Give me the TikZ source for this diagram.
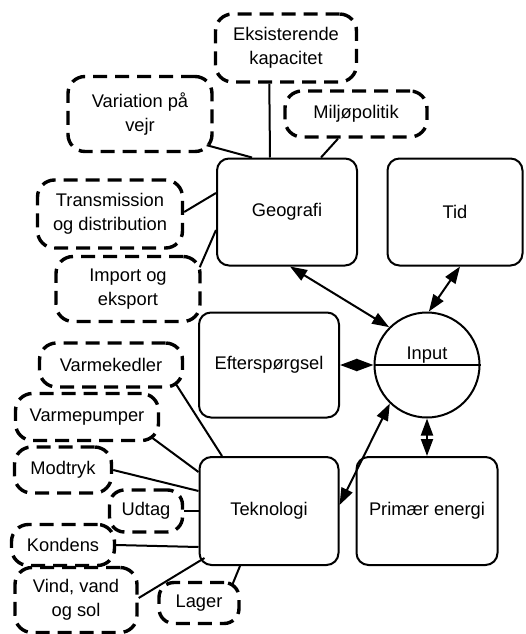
\documentclass[tikz,border=0pt]{standalone}
\usepackage{fontspec}
\setmainfont{Liberation Sans}
\usetikzlibrary{calc,arrows.meta}

\tikzset{
  box/.style={draw, line width=2pt, rounded corners=12pt, inner sep=0pt,
    align=center, font=\fontsize{18.3}{23.5}\selectfont},
  factor/.style={draw, line width=3.4pt, dash pattern=on 14pt off 8pt,
    rounded corners=17pt, inner sep=0pt, align=center,
    font=\fontsize{18.3}{23.5}\selectfont},
  link/.style={line width=2pt},
  both/.style={line width=2pt, {Triangle[length=17pt,width=12pt]}-{Triangle[length=17pt,width=12pt]}}
}

\begin{document}
\begin{tikzpicture}[x=1pt,y=-1pt]
\useasboundingbox (0,0) rectangle (525,634);

% main blocks
\node[box, minimum width=140pt, minimum height=107pt] (geo) at (287,212) {Geografi};
\node[box, minimum width=135pt, minimum height=107pt] (tid) at (455,212) {Tid};
\node[box, minimum width=140pt, minimum height=105pt] (eft) at (269,365) {Efterspørgsel};
\node[box, minimum width=139pt, minimum height=108pt] (tek) at (269,511) {Teknologi};
\node[box, minimum width=141pt, minimum height=108pt] (pri) at (427,511) {Primær energi};

% input circle with dividing line
\node[draw, circle, line width=2pt, minimum size=105pt, inner sep=0pt] (inp) at (427,365) {};
\draw[line width=2pt] (inp.west) -- (inp.east);
\node[anchor=base, inner sep=0pt, font=\fontsize{18.3}{23.5}\selectfont] (inplabel) at ($(inp)+(0,-6)$) {Input};

% geography factors
\node[factor, minimum width=141pt, minimum height=68pt] (eks) at (286,48) {Eksisterende\\kapacitet};
\node[factor, minimum width=144pt, minimum height=75pt] (var) at (140,114) {Variation på\\vejr};
\node[factor, minimum width=142pt, minimum height=46pt] (mil) at (356,114) {Miljøpolitik};
\node[factor, minimum width=145pt, minimum height=68pt] (tra) at (110,214) {Transmission\\og distribution};
\node[factor, minimum width=144pt, minimum height=65pt] (imp) at (128,289) {Import og\\eksport};

% technology factors
\node[factor, minimum width=143pt, minimum height=44pt] (vk) at (111,365) {Varmekedler};
\node[factor, minimum width=143pt, minimum height=47pt] (vp) at (87,417) {Varmepumper};
\node[factor, minimum width=97pt, minimum height=46pt] (mod) at (63,470) {Modtryk};
\node[factor, minimum width=73pt, minimum height=42pt, rounded corners=15pt] (udt) at (146,511) {Udtag};
\node[factor, minimum width=103pt, minimum height=41pt] (kon) at (63,545) {Kondens};
\node[factor, minimum width=122pt, minimum height=65pt] (vin) at (76,600) {Vind, vand\\og sol};
\node[factor, minimum width=80pt, minimum height=41pt, rounded corners=15pt] (lag) at (199,603) {Lager};

% links to Geografi
\draw[link] ($(eks.south west)+(55.5,0)$) -- ($(geo.north west)+(54,0)$);
\draw[link] ($(var.south east)+(-7,-8)$) -- ($(geo.north west)+(36,0)$);
\draw[link] ($(mil.south)+(-18,0)$) -- ($(geo.north west)+(105,0)$);
\draw[link] ($(tra.east)+(0,-2)$) -- ($(geo.west)+(0,-19)$);
\draw[link] ($(imp.north east)+(-2,12.5)$) -- ($(geo.west)+(0,18)$);

% links to Teknologi
\draw[link] ($(vk.south east)+(-8.5,-5)$) -- ($(tek.north west)+(23.5,0)$);
\draw[link] ($(vp.south east)+(-9.5,-5.5)$) -- ($(tek.north west)+(0,16)$);
\draw[link] (mod.east) -- ($(tek.west)+(0,-20)$);
\draw[link] (udt.east) -- (tek.west);
\draw[link] (kon.east) -- ($(tek.west)+(0,36)$);
\draw[link] ($(vin.east)+(0,-2)$) -- ($(tek.south west)+(6,-8)$);
\draw[link] ($(lag.north east)+(-8,3)$) -- ($(tek.south west)+(41.5,0)$);

% interactions with Input
\draw[both] ($(geo.south)+(3,0)$) -- (inp.135);
\draw[both] ($(tid.south)+(5,0)$) -- (inp.88);
\draw[both] (eft.east) -- (inp.west);
\draw[both] (inp.south) -- (pri.north);
\draw[both] (inp.226) -- ($(tek.east)+(0,-6)$);
\end{tikzpicture}
\end{document}
